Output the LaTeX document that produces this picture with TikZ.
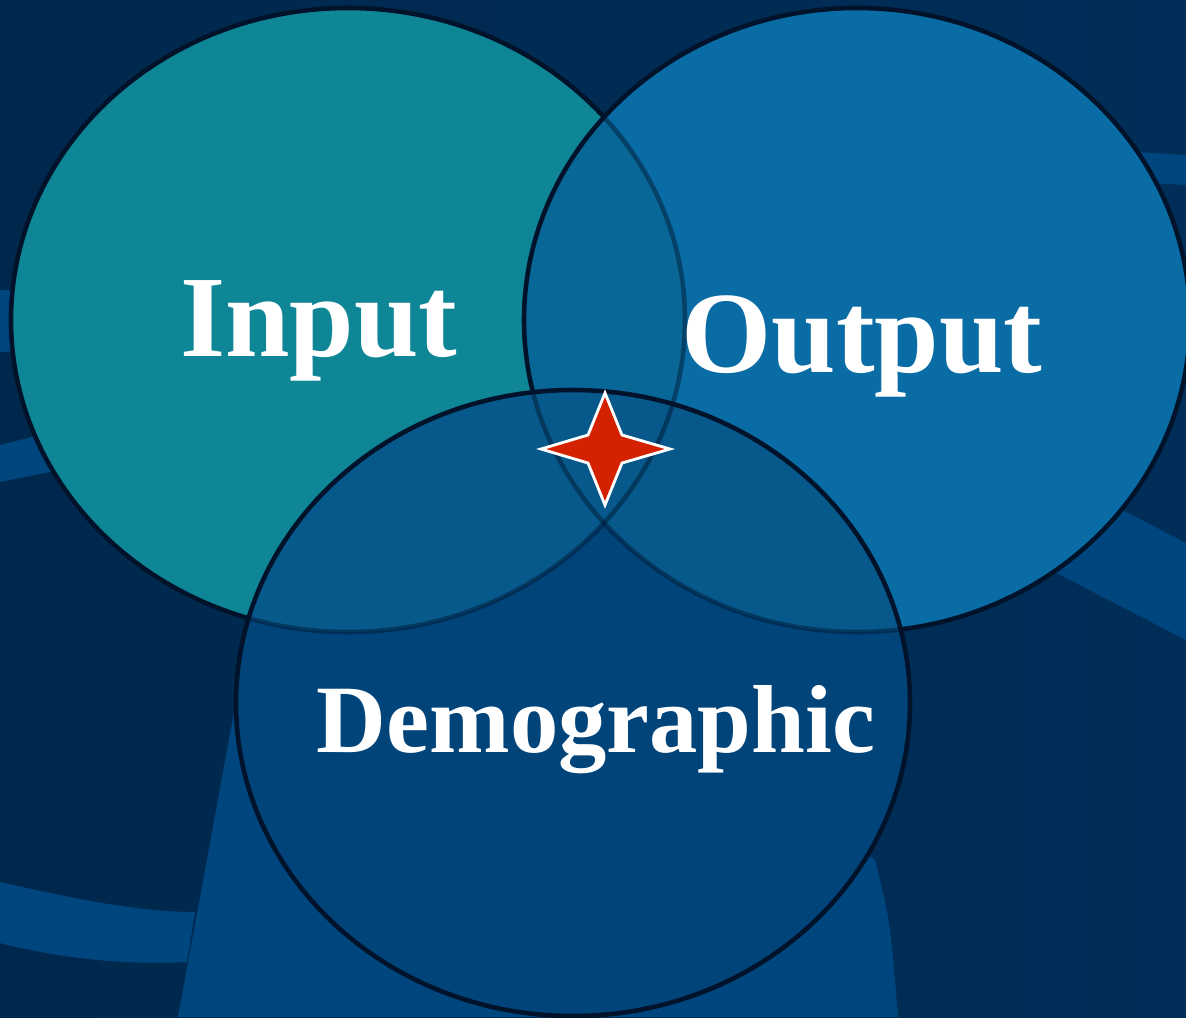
\documentclass[tikz,border=0pt]{standalone}
\usepackage{fontspec}
\setmainfont{Liberation Serif}

\definecolor{bgdark}{HTML}{00284D}
\definecolor{bgright}{HTML}{002E58}
\definecolor{bgmid}{HTML}{003E70}
\definecolor{swoosh}{HTML}{00467E}
\definecolor{inputfill}{HTML}{0E8696}
\definecolor{outputfill}{HTML}{0A6CA5}
\definecolor{iofill}{HTML}{086796}
\definecolor{overlapfill}{HTML}{07598B}
\definecolor{demofill}{HTML}{00447A}
\definecolor{rim}{HTML}{00132B}
\definecolor{starred}{HTML}{D42100}

% the three sets
\newcommand{\inputset}{(inputc) ellipse [x radius=337, y radius=312]}
\newcommand{\outputset}{(outputc) ellipse [x radius=333, y radius=312]}
\newcommand{\demogset}{(demogc) ellipse [x radius=337, y radius=313]}

\begin{document}
\begin{tikzpicture}[
    x=0.1mm, y=-0.1mm,
    rimline/.style={draw=rim, line width=1.3pt},
    faded/.style={draw=rim, line width=1.3pt, draw opacity=0.45},
    setname/.style={text=white, font=\bfseries\fontsize{33}{36}\selectfont, inner sep=0pt, anchor=base},
    band/.style={fill=swoosh},
    spark/.style={fill=starred, draw=white, line width=0.8pt, line join=miter}
]
    \clip (0,0) rectangle (1186,1017);
    \coordinate (inputc) at (348,320);
    \coordinate (outputc) at (857,320);
    \coordinate (demogc) at (573,703);

    % background and swooshes
    \fill[left color=bgdark, middle color=bgmid, right color=bgright] (0,0) rectangle (1186,1017);
    \fill[band] (0,882) .. controls (80,900) and (140,912) .. (195,912) -- (187,962) .. controls (120,965) and (60,958) .. (0,943) -- cycle;
    \fill[band] (178,1017) -- (240,680) -- (600,680) -- (875,860) .. controls (890,920) .. (898,1017) -- cycle;
    \fill[band] (900,395) -- (1186,543) -- (1186,640) -- (900,492) -- cycle;
    \fill[band] (1100,150) -- (1186,155) -- (1186,185) -- (1100,180) -- cycle;
    \fill[band] (0,290) -- (40,290) -- (40,350) -- (0,352) -- cycle;
    \fill[band] (0,445) -- (60,430) -- (60,470) -- (0,482) -- cycle;

    % Input and Output
    \fill[inputfill] \inputset;
    \draw[rimline] \inputset;
    \fill[outputfill] \outputset;
    \begin{scope}
        \clip \inputset;
        \fill[iofill] \outputset;
    \end{scope}
    \begin{scope}
        \clip \outputset;
        \draw[faded] \inputset;
    \end{scope}
    \draw[rimline] \outputset;

    % Demographic on top
    \fill[demofill] \demogset;
    \begin{scope}
        \clip \demogset;
        \fill[overlapfill] \inputset;
        \fill[overlapfill] \outputset;
        \draw[faded] \inputset;
        \draw[faded] \outputset;
    \end{scope}
    \draw[rimline] \demogset;

    % star at the common part
    \draw[spark] (605,393) -- (622,435) -- (670,449) -- (622,463) -- (605,505) -- (588,463) -- (541,449) -- (588,435) -- cycle;

    \node[setname] (inputname) at (319,356) {Input};
    \node[setname] (outputname) at (862,372) {Output};
    \node[setname, font=\bfseries\fontsize{27.5}{30}\selectfont] (demogname) at (596,752) {Demographic};
\end{tikzpicture}
\end{document}
